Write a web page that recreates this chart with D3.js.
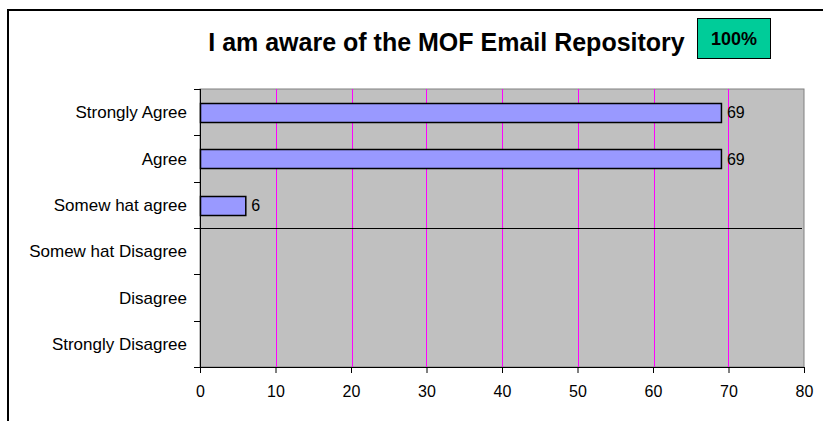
<!DOCTYPE html>
<html>
<head>
<meta charset="utf-8">
<script src="https://cdn.jsdelivr.net/npm/d3@7"></script>
<style>
  body { margin: 0; background: #fff; }
  svg text { font-family: "Liberation Sans", Arial, sans-serif; fill: #000; }
</style>
</head>
<body>
<div id="chart"></div>
<script>
// survey answers, top to bottom
var categories = ["Strongly Agree", "Agree", "Somew hat agree", "Somew hat Disagree", "Disagree", "Strongly Disagree"];
var counts = [69, 69, 6, 0, 0, 0];
var xTicks = [0, 10, 20, 30, 40, 50, 60, 70, 80];
var titleText = "I am aware of the MOF Email Repository";
var badgeText = "100%";

var width = 823;
var height = 421;
var margin = { top: 89, right: 19, bottom: 54, left: 200 };
var chartWidth = width - margin.left - margin.right;
var chartHeight = height - margin.top - margin.bottom;

var svg = d3
  .select("#chart")
  .append("svg")
  .attr("width", width)
  .attr("height", height);

// outer frame (clipped on right and bottom)
svg
  .append("rect")
  .attr("x", 8)
  .attr("y", 10)
  .attr("width", 900)
  .attr("height", 500)
  .attr("fill", "#fff")
  .attr("stroke", "#000")
  .attr("stroke-width", 2);

// title
svg
  .append("text")
  .text(titleText)
  .attr("x", 446.5)
  .attr("y", 51)
  .attr("text-anchor", "middle")
  .style("font-size", "25px")
  .style("font-weight", "bold");

// green badge
svg
  .append("rect")
  .attr("x", 697.5)
  .attr("y", 18.5)
  .attr("width", 73)
  .attr("height", 40)
  .attr("fill", "#00CC99")
  .attr("stroke", "#000")
  .attr("stroke-width", 1);
svg
  .append("text")
  .text(badgeText)
  .attr("x", 734)
  .attr("y", 45)
  .attr("text-anchor", "middle")
  .style("font-size", "18px")
  .style("font-weight", "bold");

var g = svg
  .append("g")
  .attr("transform", "translate(" + margin.left + "," + margin.top + ")");

var xScale = d3.scaleLinear().domain([0, 80]).range([0, chartWidth]);
var yScale = d3
  .scaleBand()
  .domain(categories)
  .range([0, chartHeight])
  .paddingInner(0.6)
  .paddingOuter(0.3);

// plot background
g.append("rect")
  .attr("width", chartWidth)
  .attr("height", chartHeight)
  .attr("fill", "#C0C0C0")
  .attr("stroke", "#808080")
  .attr("stroke-width", 1);

// gridlines (snapped to even pixel columns so the thin magenta stays magenta)
function gridX(d) {
  return 2 * Math.round(xScale(d) / 2) + 0.5;
}
g.append("g")
  .selectAll("line")
  .data(xTicks.slice(1, -1))
  .enter()
  .append("line")
  .attr("x1", gridX)
  .attr("x2", gridX)
  .attr("y1", 0)
  .attr("y2", chartHeight)
  .attr("stroke", "#FF00FF")
  .attr("stroke-width", 1)
  .attr("shape-rendering", "crispEdges");

// the stray black line under "Somew hat agree"
var step = yScale.step();
var lineY = Math.round(yScale(categories[2]) - yScale.paddingInner() * step / 2 + step) + 0.5;
g.append("line")
  .attr("x1", 0)
  .attr("x2", chartWidth - 2)
  .attr("y1", lineY)
  .attr("y2", lineY)
  .attr("stroke", "#000")
  .attr("stroke-width", 1);

// bars
var shown = categories
  .map(function(c, i) { return { cat: c, val: counts[i] }; })
  .filter(function(d) { return d.val > 0; });

g.append("g")
  .selectAll("rect")
  .data(shown)
  .enter()
  .append("rect")
  .attr("x", 0.5)
  .attr("y", function(d) { return Math.round(yScale(d.cat)) + 0.5; })
  .attr("width", function(d) { return xScale(d.val); })
  .attr("height", Math.round(yScale.bandwidth()))
  .attr("fill", "#9999FF")
  .attr("stroke", "#000")
  .attr("stroke-width", 1.5);

// value labels
g.append("g")
  .selectAll("text")
  .data(shown)
  .enter()
  .append("text")
  .text(function(d) { return d.val; })
  .attr("x", function(d) { return xScale(d.val) + 6; })
  .attr("y", function(d) { return yScale(d.cat) + yScale.bandwidth() / 2 + 6; })
  .style("font-size", "16px");

// x axis
var xAxis = d3.axisBottom(xScale).tickValues(xTicks).tickSize(6).tickPadding(13);
var xg = g.append("g")
  .attr("transform", "translate(0," + chartHeight + ")")
  .call(xAxis);
xg.select(".domain").attr("stroke", "#000").attr("d", "M0,0.5H" + chartWidth);
xg.selectAll("text").style("font-size", "16px").style("font-family", "'Liberation Sans', Arial, sans-serif");

// y axis: ticks sit between categories
var yg = g.append("g");
yg.append("line")
  .attr("x1", 0.5)
  .attr("x2", 0.5)
  .attr("y1", 0)
  .attr("y2", chartHeight)
  .attr("stroke", "#000");
var bounds = [0].concat(categories.map(function(c) {
  return yScale(c) + yScale.bandwidth() + yScale.paddingInner() * step / 2;
}));
bounds[bounds.length - 1] = chartHeight;
yg.selectAll(".tick")
  .data(bounds)
  .enter()
  .append("line")
  .attr("x1", -6)
  .attr("x2", 0)
  .attr("y1", function(d) { return Math.round(d) + 0.5; })
  .attr("y2", function(d) { return Math.round(d) + 0.5; })
  .attr("stroke", "#000");
yg.selectAll(".cat")
  .data(categories)
  .enter()
  .append("text")
  .text(function(d) { return d; })
  .attr("x", -13)
  .attr("y", function(d) { return yScale(d) + yScale.bandwidth() / 2 + 6; })
  .attr("text-anchor", "end")
  .style("font-size", "17px");
</script>
</body>
</html>
